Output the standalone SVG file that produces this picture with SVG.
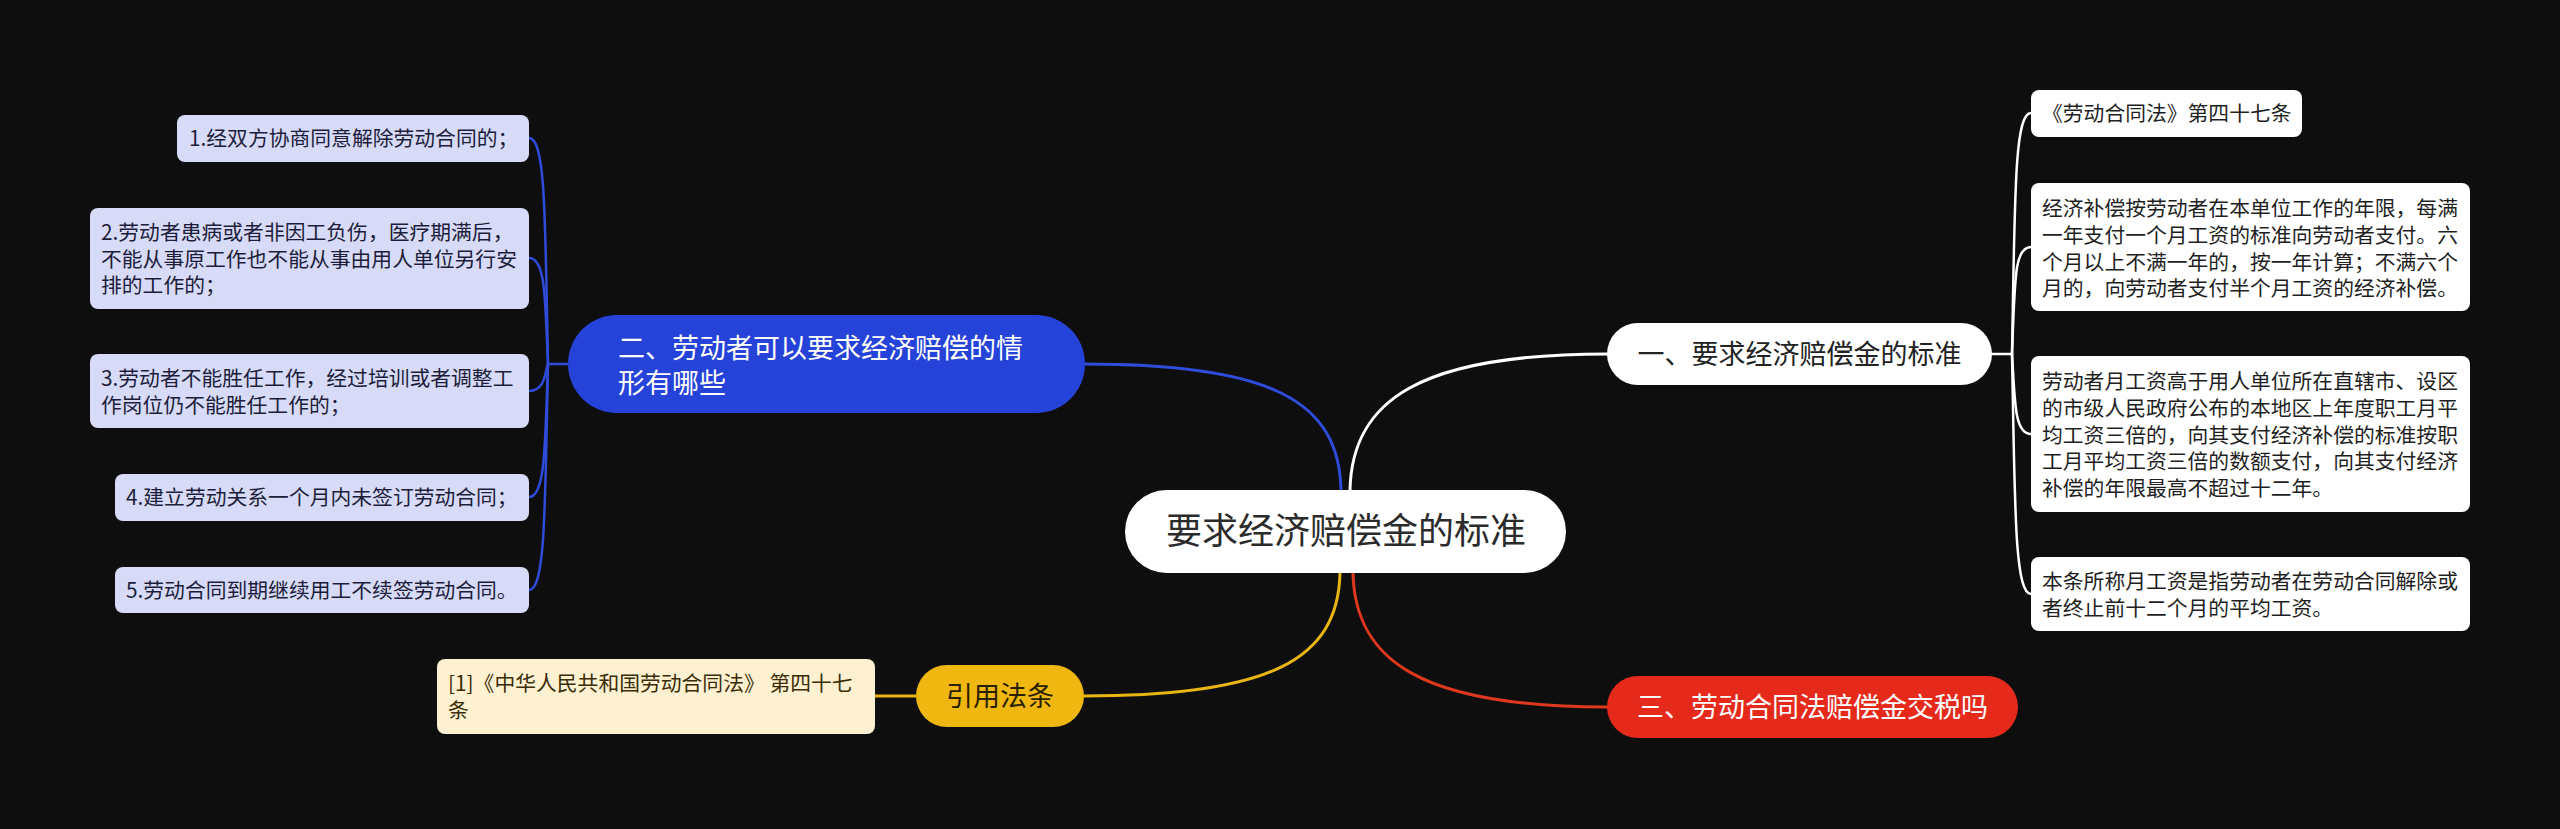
<svg xmlns="http://www.w3.org/2000/svg" width="2560" height="829" viewBox="0 0 2560 829">
<style>
text{font-family:"Noto Sans CJK SC","Noto Sans",sans-serif}
.root-t{font-size:36px;fill:#2b2b2b;text-anchor:middle}
.br-t{font-size:27px;text-anchor:middle}
.lf-t{font-size:20.8px}
.lb{fill:#d7dbf8}
.lb-t{fill:#1d1d3b}
.rw{fill:#ffffff}
.rw-t{fill:#1f1f1f}
.c{fill:none;stroke-width:3;stroke-linecap:round}
.cl{fill:none;stroke-width:2.5;stroke-linecap:round}
</style>
<rect x="0" y="0" width="2560" height="829" fill="#0e0e0e"/>
<g id="connectors">
  <path class="c" stroke="#ffffff" d="M1350,490 C1352,400 1420,354 1607,354"/>
  <path class="c" stroke="#2f4bd9" d="M1341,490 C1339,400 1270,364 1085,364"/>
  <path class="c" stroke="#e8b512" d="M1340,573 C1338,660 1270,696 1084,696"/>
  <path class="c" stroke="#e0381f" d="M1353,573 C1355,660 1420,707 1607,707"/>
  <path class="c" stroke="#e8b512" d="M916,696 L875,696"/>
  <path class="cl" stroke="#ffffff" d="M1992,354 L2012,354"/>
  <path class="cl" stroke="#ffffff" d="M2012,354 C2015,200 2014,113 2031,113"/>
  <path class="cl" stroke="#ffffff" d="M2012,354 C2015,280 2014,247 2031,247"/>
  <path class="cl" stroke="#ffffff" d="M2012,354 C2015,400 2014,434 2031,434"/>
  <path class="cl" stroke="#ffffff" d="M2012,354 C2015,500 2014,594 2031,594"/>
  <path class="cl" stroke="#2f4bd9" d="M568,364 L548,364"/>
  <path class="cl" stroke="#2f4bd9" d="M548,364 C545,220 546,138 529,138"/>
  <path class="cl" stroke="#2f4bd9" d="M548,364 C545,300 546,258 529,258"/>
  <path class="cl" stroke="#2f4bd9" d="M548,364 C545,370 546,391 529,391"/>
  <path class="cl" stroke="#2f4bd9" d="M548,364 C545,440 546,497 529,497"/>
  <path class="cl" stroke="#2f4bd9" d="M548,364 C545,500 546,590 529,590"/>
</g>
<g id="root">
  <rect x="1125" y="490" width="441" height="83" rx="41.5" fill="#ffffff"/>
  <text class="root-t" x="1346" y="544">要求经济赔偿金的标准</text>
</g>
<g id="branch1">
  <rect x="1607" y="323" width="385" height="62" rx="31" fill="#ffffff"/>
  <text class="br-t" x="1799.5" y="364" fill="#222222">一、要求经济赔偿金的标准</text>
</g>
<g id="branch2">
  <rect x="568" y="315" width="517" height="98" rx="49" fill="#2643d9"/>
  <text x="618" y="358" font-size="27" fill="#ffffff">二、劳动者可以要求经济赔偿的情</text>
  <text x="618" y="393" font-size="27" fill="#ffffff">形有哪些</text>
</g>
<g id="branch3">
  <rect x="1607" y="676" width="411" height="62" rx="31" fill="#e52a1b"/>
  <text class="br-t" x="1812.5" y="717" fill="#ffffff">三、劳动合同法赔偿金交税吗</text>
</g>
<g id="branch4">
  <rect x="916" y="665" width="168" height="62" rx="31" fill="#efb70f"/>
  <text class="br-t" x="1000" y="706" fill="#2a2000">引用法条</text>
</g>
<g id="leaf-ref">
  <rect x="437" y="659" width="438" height="75" rx="8" fill="#fdf1d2"/>
  <text class="lf-t" x="448" y="691" fill="#3a2c05">[1]《中华人民共和国劳动合同法》 第四十七</text>
  <text class="lf-t" x="448" y="718" fill="#3a2c05">条</text>
</g>
<g id="leaf-l1">
  <rect class="lb" x="177" y="115" width="352" height="47" rx="8"/>
  <text class="lf-t lb-t" x="189" y="146">1.经双方协商同意解除劳动合同的；</text>
</g>
<g id="leaf-l2">
  <rect class="lb" x="90" y="208" width="439" height="101" rx="8"/>
  <text class="lf-t lb-t" x="101" y="240">2.劳动者患病或者非因工负伤，医疗期满后，</text>
  <text class="lf-t lb-t" x="101" y="267">不能从事原工作也不能从事由用人单位另行安</text>
  <text class="lf-t lb-t" x="101" y="293">排的工作的；</text>
</g>
<g id="leaf-l3">
  <rect class="lb" x="90" y="354" width="439" height="74" rx="8"/>
  <text class="lf-t lb-t" x="101" y="386">3.劳动者不能胜任工作，经过培训或者调整工</text>
  <text class="lf-t lb-t" x="101" y="413">作岗位仍不能胜任工作的；</text>
</g>
<g id="leaf-l4">
  <rect class="lb" x="115" y="474" width="414" height="47" rx="8"/>
  <text class="lf-t lb-t" x="126" y="505">4.建立劳动关系一个月内未签订劳动合同；</text>
</g>
<g id="leaf-l5">
  <rect class="lb" x="115" y="567" width="414" height="46" rx="8"/>
  <text class="lf-t lb-t" x="126" y="598">5.劳动合同到期继续用工不续签劳动合同。</text>
</g>
<g id="leaf-r1">
  <rect class="rw" x="2031" y="90" width="271" height="47" rx="8"/>
  <text class="lf-t rw-t" x="2042" y="121">《劳动合同法》第四十七条</text>
</g>
<g id="leaf-r2">
  <rect class="rw" x="2031" y="183" width="439" height="128" rx="8"/>
  <text class="lf-t rw-t" x="2042" y="216">经济补偿按劳动者在本单位工作的年限，每满</text>
  <text class="lf-t rw-t" x="2042" y="243">一年支付一个月工资的标准向劳动者支付。六</text>
  <text class="lf-t rw-t" x="2042" y="270">个月以上不满一年的，按一年计算；不满六个</text>
  <text class="lf-t rw-t" x="2042" y="296">月的，向劳动者支付半个月工资的经济补偿。</text>
</g>
<g id="leaf-r3">
  <rect class="rw" x="2031" y="356" width="439" height="156" rx="8"/>
  <text class="lf-t rw-t" x="2042" y="389">劳动者月工资高于用人单位所在直辖市、设区</text>
  <text class="lf-t rw-t" x="2042" y="416">的市级人民政府公布的本地区上年度职工月平</text>
  <text class="lf-t rw-t" x="2042" y="443">均工资三倍的，向其支付经济补偿的标准按职</text>
  <text class="lf-t rw-t" x="2042" y="469">工月平均工资三倍的数额支付，向其支付经济</text>
  <text class="lf-t rw-t" x="2042" y="496">补偿的年限最高不超过十二年。</text>
</g>
<g id="leaf-r4">
  <rect class="rw" x="2031" y="557" width="439" height="74" rx="8"/>
  <text class="lf-t rw-t" x="2042" y="589">本条所称月工资是指劳动者在劳动合同解除或</text>
  <text class="lf-t rw-t" x="2042" y="616">者终止前十二个月的平均工资。</text>
</g>
</svg>
